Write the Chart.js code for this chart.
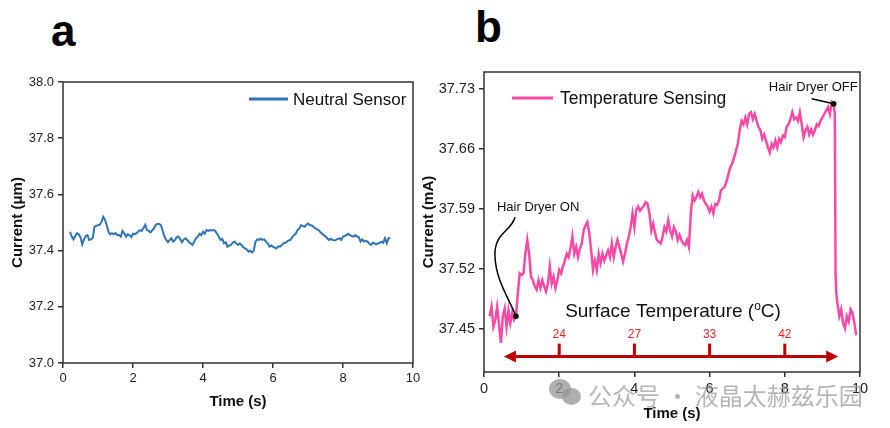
<!DOCTYPE html>
<html lang="en">
<head>
<meta charset="UTF-8">
<title>Current vs time</title>
<script src="https://cdn.jsdelivr.net/npm/chart.js@4.4.1/dist/chart.umd.min.js"></script>
<style>
  body { margin: 0; background: #fff; width: 890px; height: 428px; overflow: hidden; position: relative; font-family: "Liberation Sans", Arial, sans-serif; }
  canvas { position: absolute; top: 0; }
  #cA { left: 0; }
  #cB { left: 415px; }
  .panel { position: absolute; font-weight: bold; font-size: 44px; color: #000; line-height: 1; }
  .wm { position: absolute; left: 588px; top: 377px; font-family: "Noto Sans CJK SC", sans-serif; font-size: 24px; color: rgba(150,150,150,0.7); white-space: pre; }
  .bub { position: absolute; border-radius: 50%; background: rgba(150,150,150,0.75); }
</style>
</head>
<body>
<div class="panel" style="left:51px; top:9px;">a</div>
<div class="panel" style="left:475px; top:5px;">b</div>
<canvas id="cA" width="440" height="428"></canvas>
<canvas id="cB" width="475" height="428"></canvas>
<div class="bub" style="left:549px; top:379px; width:22px; height:20px;"></div>
<div class="bub" style="left:562px; top:388px; width:19px; height:17px;"></div>
<div class="wm">公众号 · 液晶太赫兹乐园</div>
<script>
// panel a: neutral sensor
const neutralTime = [0.20,0.25,0.30,0.35,0.40,0.45,0.50,0.55,0.60,0.65,0.70,0.75,0.80,0.85,0.90,0.95,
  1.00,1.05,1.10,1.15,1.20,1.25,1.30,1.35,1.40,1.45,1.50,1.55,1.60,1.65,1.70,1.75,1.80,1.85,1.90,1.95,
  2.00,2.05,2.10,2.15,2.20,2.25,2.30,2.35,2.40,2.45,2.50,2.55,2.60,2.65,2.70,2.75,2.80,2.85,2.90,2.95,
  3.00,3.05,3.10,3.15,3.20,3.25,3.30,3.35,3.40,3.45,3.50,3.55,3.60,3.65,3.70,3.75,3.80,3.85,3.90,3.95,
  4.00,4.05,4.10,4.15,4.20,4.25,4.30,4.35,4.40,4.45,4.50,4.55,4.60,4.65,4.70,4.75,4.80,4.85,4.90,4.95,
  5.00,5.05,5.10,5.15,5.20,5.25,5.30,5.35,5.40,5.45,5.50,5.55,5.60,5.65,5.70,5.75,5.80,5.85,5.90,5.95,
  6.00,6.05,6.10,6.15,6.20,6.25,6.30,6.35,6.40,6.45,6.50,6.55,6.60,6.65,6.70,6.75,6.80,6.85,6.90,6.95,
  7.00,7.05,7.10,7.15,7.20,7.25,7.30,7.35,7.40,7.45,7.50,7.55,7.60,7.65,7.70,7.75,7.80,7.85,7.90,7.95,
  8.00,8.05,8.10,8.15,8.20,8.25,8.30,8.35,8.40,8.45,8.50,8.55,8.60,8.65,8.70,8.75,8.80,8.85,8.90,8.95,
  9.00,9.05,9.10,9.15,9.20,9.25,9.30,9.35];
const neutralCurrent = [37.467,37.450,37.440,37.452,37.462,37.458,37.448,37.422,37.440,37.452,37.455,37.438,37.440,37.445,37.485,37.488,
  37.490,37.492,37.502,37.520,37.510,37.490,37.467,37.458,37.462,37.458,37.462,37.455,37.456,37.450,37.470,37.462,37.450,37.458,37.455,37.448,
  37.460,37.458,37.462,37.468,37.473,37.470,37.480,37.492,37.473,37.470,37.465,37.472,37.480,37.492,37.495,37.495,37.490,37.470,37.450,37.438,
  37.430,37.438,37.444,37.432,37.438,37.448,37.450,37.440,37.430,37.440,37.444,37.438,37.430,37.425,37.420,37.432,37.444,37.450,37.460,37.455,
  37.467,37.460,37.473,37.470,37.473,37.472,37.473,37.470,37.460,37.450,37.438,37.442,37.426,37.430,37.414,37.418,37.420,37.428,37.432,37.425,
  37.420,37.426,37.420,37.412,37.408,37.404,37.396,37.400,37.393,37.400,37.432,37.440,37.438,37.442,37.438,37.440,37.432,37.425,37.414,37.418,
  37.414,37.410,37.408,37.415,37.414,37.420,37.426,37.428,37.432,37.436,37.438,37.448,37.455,37.460,37.473,37.478,37.490,37.488,37.485,37.492,
  37.497,37.490,37.490,37.486,37.480,37.476,37.473,37.466,37.460,37.455,37.450,37.444,37.438,37.442,37.438,37.436,37.438,37.442,37.444,37.438,
  37.450,37.452,37.455,37.460,37.455,37.452,37.450,37.455,37.450,37.448,37.432,37.440,37.432,37.435,37.432,37.424,37.420,37.428,37.426,37.422,
  37.426,37.428,37.432,37.428,37.444,37.426,37.444,37.445];

// panel b: temperature sensing
const tempTime = [0.15,0.20,0.25,0.30,0.35,0.40,0.45,0.50,0.55,0.60,0.65,0.70,0.75,0.80,0.85,0.90,0.95,
  1.00,1.05,1.10,1.15,1.20,1.25,1.30,1.35,1.40,1.45,1.50,1.55,1.60,1.65,1.70,1.75,1.80,1.85,1.90,1.95,
  2.00,2.05,2.10,2.15,2.20,2.25,2.30,2.35,2.40,2.45,2.50,2.55,2.60,2.65,2.70,2.75,2.80,2.85,2.90,2.95,
  3.00,3.05,3.10,3.15,3.20,3.25,3.30,3.35,3.40,3.45,3.50,3.55,3.60,3.65,3.70,3.75,3.80,3.85,3.90,3.95,
  4.00,4.05,4.10,4.15,4.20,4.25,4.30,4.35,4.40,4.45,4.50,4.55,4.60,4.65,4.70,4.75,4.80,4.85,4.90,4.95,
  5.00,5.05,5.10,5.15,5.20,5.25,5.30,5.35,5.40,5.45,5.50,5.55,5.60,5.65,5.70,5.75,5.80,5.85,5.90,5.95,
  6.00,6.05,6.10,6.15,6.20,6.25,6.30,6.35,6.40,6.45,6.50,6.55,6.60,6.65,6.70,6.75,6.80,6.85,6.90,6.95,
  7.00,7.05,7.10,7.15,7.20,7.25,7.30,7.35,7.40,7.45,7.50,7.55,7.60,7.65,7.70,7.75,7.80,7.85,7.90,7.95,
  8.00,8.05,8.10,8.15,8.20,8.25,8.30,8.35,8.40,8.45,8.50,8.55,8.60,8.65,8.70,8.75,8.80,8.85,8.90,8.95,
  9.00,9.05,9.10,9.15,9.20,9.25,9.30,9.33,9.35,9.37,9.40,9.45,9.50,9.55,9.60,9.65,9.70,9.75,9.80,9.85,9.90];
const tempCurrent = [37.465,37.476,37.453,37.461,37.476,37.455,37.434,37.465,37.474,37.453,37.472,37.457,37.469,37.461,37.465,37.492,37.515,
  37.513,37.515,37.538,37.554,37.538,37.511,37.507,37.500,37.496,37.507,37.498,37.507,37.500,37.494,37.503,37.523,37.503,37.511,37.498,37.507,
  37.519,37.515,37.523,37.530,37.538,37.534,37.544,37.558,37.538,37.546,37.534,37.544,37.550,37.565,37.571,37.575,37.562,37.542,37.519,37.530,
  37.519,37.538,37.527,37.538,37.530,37.536,37.542,37.534,37.550,37.534,37.546,37.554,37.546,37.538,37.529,37.538,37.550,37.558,37.569,37.585,
  37.569,37.589,37.593,37.588,37.591,37.594,37.598,37.596,37.585,37.565,37.573,37.562,37.554,37.552,37.550,37.558,37.569,37.564,37.577,37.565,
  37.558,37.569,37.564,37.554,37.560,37.554,37.550,37.548,37.554,37.546,37.585,37.606,37.600,37.604,37.610,37.604,37.608,37.600,37.596,37.593,
  37.587,37.593,37.585,37.596,37.595,37.600,37.612,37.614,37.616,37.622,37.631,37.639,37.643,37.650,37.658,37.666,37.682,37.693,37.689,37.697,
  37.689,37.701,37.703,37.695,37.701,37.693,37.686,37.682,37.672,37.677,37.670,37.662,37.656,37.666,37.662,37.670,37.662,37.672,37.668,37.676,
  37.674,37.686,37.689,37.695,37.703,37.695,37.697,37.693,37.703,37.689,37.674,37.682,37.686,37.677,37.683,37.677,37.682,37.689,37.687,37.693,
  37.697,37.701,37.705,37.709,37.701,37.715,37.713,37.701,37.515,37.492,37.480,37.465,37.473,37.457,37.451,37.465,37.459,37.473,37.469,37.457,37.443];

const xTicks = [0, 2, 4, 6, 8, 10];
const yTicksA = [37.0, 37.2, 37.4, 37.6, 37.8, 38.0];
const yTicksB = [37.45, 37.52, 37.59, 37.66, 37.73];

// annotations in panel b
const dryerTime = [0.85, 9.30];
const dryerCurrent = [37.465, 37.713];
const dryerText = ['Hair Dryer ON', 'Hair Dryer OFF'];
const surfaceTime = [2, 4, 6, 8];
const surfaceTemp = ['24', '27', '33', '42'];
const arrowSpan = [0.53, 9.42];
const arrowLevel = 37.418;

const FONT = '"Liberation Sans", Arial, sans-serif';
const AXIS = '#333';

function pairs(xs, ys) { return xs.map((x, i) => ({ x: x, y: ys[i] })); }

// frame + legend drawn inside the plot area
const frameLegend = {
  id: 'frameLegend',
  afterDatasetsDraw(chart, args, opts) {
    const { ctx, chartArea: a } = chart;
    ctx.save();
    ctx.strokeStyle = AXIS;
    ctx.lineWidth = 1.5;
    ctx.strokeRect(a.left, a.top, a.right - a.left, a.bottom - a.top);
    const ds = chart.data.datasets[0];
    ctx.strokeStyle = ds.borderColor;
    ctx.lineWidth = 3;
    ctx.beginPath();
    ctx.moveTo(opts.x, opts.y);
    ctx.lineTo(opts.x + opts.len, opts.y);
    ctx.stroke();
    ctx.fillStyle = '#111';
    ctx.font = opts.size + 'px ' + FONT;
    ctx.textBaseline = 'middle';
    ctx.fillText(ds.label, opts.x + opts.len + opts.gap, opts.y + 1);
    ctx.restore();
  }
};

function axisTitle(text, pad) {
  return { display: true, text: text, color: '#111', font: { family: FONT, size: 15, weight: 'bold' }, padding: pad };
}

function makeScales(o) {
  return {
    x: {
      type: 'linear', min: 0, max: 10,
      afterBuildTicks: s => { s.ticks = xTicks.map(v => ({ value: v })); },
      afterFit: s => { s.height = o.xHeight; s.paddingLeft = 0; s.paddingRight = 0; },
      grid: { drawOnChartArea: false, drawTicks: true, tickLength: o.tickLen, color: AXIS, lineWidth: 1.5 },
      border: { display: false },
      ticks: { color: '#222', font: { family: FONT, size: o.tickSize }, padding: 3, maxRotation: 0 },
      title: axisTitle('Time (s)', { top: 0, bottom: o.xPad })
    },
    y: {
      type: 'linear', min: o.yMin, max: o.yMax,
      afterBuildTicks: s => { s.ticks = o.yTicks.map(v => ({ value: v })); },
      afterFit: s => { s.width = o.yWidth; s.paddingTop = 0; s.paddingBottom = 0; },
      grid: { drawOnChartArea: false, drawTicks: true, tickLength: o.tickLen, color: AXIS, lineWidth: 1.5 },
      border: { display: false },
      ticks: { color: '#222', font: { family: FONT, size: o.tickSize }, padding: 4, callback: v => v.toFixed(o.yDec) },
      title: axisTitle(o.yTitle, { top: o.yPad, bottom: 0 })
    }
  };
}

new Chart(document.getElementById('cA'), {
  type: 'line',
  data: { datasets: [{ label: 'Neutral Sensor', data: pairs(neutralTime, neutralCurrent), borderColor: '#2f74b5', borderWidth: 2, pointRadius: 0, tension: 0 }] },
  options: {
    responsive: false, animation: false, parsing: false,
    layout: { padding: { top: 82, right: 27, bottom: 10, left: 0 } },
    plugins: { legend: { display: false }, tooltip: { enabled: false },
      frameLegend: { x: 249, y: 99, len: 39, gap: 5, size: 17 } },
    scales: makeScales({ yMin: 37.0, yMax: 38.0, yTicks: yTicksA, yDec: 1, yWidth: 63, xHeight: 55,
      tickLen: 5, tickSize: 13, yTitle: 'Current (\u03bcm)', yPad: 8.5, xPad: 7 })
  },
  plugins: [frameLegend]
});

const dryerNotes = {
  id: 'dryerNotes',
  afterDatasetsDraw(chart) {
    const { ctx, scales: { x, y } } = chart;
    ctx.save();
    // hair dryer markers and leader lines
    const on = { x: x.getPixelForValue(dryerTime[0]), y: y.getPixelForValue(dryerCurrent[0]) };
    const off = { x: x.getPixelForValue(dryerTime[1]), y: y.getPixelForValue(dryerCurrent[1]) };
    ctx.strokeStyle = '#000';
    ctx.lineWidth = 1.5;
    ctx.beginPath();
    ctx.moveTo(on.x - 1, on.y - 99);
    ctx.bezierCurveTo(on.x - 5, on.y - 84, on.x - 22, on.y - 84, on.x - 21, on.y - 60);
    ctx.bezierCurveTo(on.x - 20, on.y - 36, on.x - 8, on.y - 20, on.x, on.y);
    ctx.stroke();
    ctx.beginPath();
    ctx.moveTo(off.x - 22, off.y - 5);
    ctx.lineTo(off.x, off.y);
    ctx.stroke();
    ctx.fillStyle = '#000';
    [on, off].forEach(p => { ctx.beginPath(); ctx.arc(p.x, p.y, 2.8, 0, Math.PI * 2); ctx.fill(); });
    ctx.font = '13px ' + FONT;
    ctx.textBaseline = 'middle';
    ctx.fillStyle = '#111';
    ctx.textAlign = 'left';
    ctx.fillText(dryerText[0], on.x - 19, on.y - 109);
    ctx.textAlign = 'right';
    ctx.fillText(dryerText[1], off.x + 24, off.y - 16);

    // surface temperature arrow
    const ay = y.getPixelForValue(arrowLevel);
    const ax0 = x.getPixelForValue(arrowSpan[0]);
    const ax1 = x.getPixelForValue(arrowSpan[1]);
    ctx.strokeStyle = '#c00000';
    ctx.fillStyle = '#c00000';
    ctx.lineWidth = 3;
    ctx.beginPath();
    ctx.moveTo(ax0 + 8, ay);
    ctx.lineTo(ax1 - 8, ay);
    ctx.stroke();
    ctx.beginPath();
    ctx.moveTo(ax0, ay); ctx.lineTo(ax0 + 12, ay - 6); ctx.lineTo(ax0 + 12, ay + 6); ctx.closePath(); ctx.fill();
    ctx.beginPath();
    ctx.moveTo(ax1, ay); ctx.lineTo(ax1 - 12, ay - 6); ctx.lineTo(ax1 - 12, ay + 6); ctx.closePath(); ctx.fill();
    ctx.font = '12px ' + FONT;
    ctx.textAlign = 'center';
    surfaceTime.forEach((t, i) => {
      const px = x.getPixelForValue(t);
      ctx.fillStyle = '#c00000';
      ctx.fillRect(px - 1.5, ay - 13, 3, 13);
      ctx.fillStyle = '#e8262a';
      ctx.fillText(surfaceTemp[i], px, ay - 22);
    });
    // heading over the arrow
    ctx.fillStyle = '#111';
    ctx.textAlign = 'left';
    const mid = (x.getPixelForValue(2) + x.getPixelForValue(8)) / 2 + 1;
    const p1 = 'Surface Temperature (', p2 = 'o', p3 = 'C)';
    ctx.font = '19px ' + FONT; const w1 = ctx.measureText(p1).width, w3 = ctx.measureText(p3).width;
    ctx.font = '12px ' + FONT; const w2 = ctx.measureText(p2).width;
    let sx = mid - (w1 + w2 + w3) / 2;
    const ty = ay - 45;
    ctx.font = '19px ' + FONT; ctx.fillText(p1, sx, ty); sx += w1;
    ctx.font = '12px ' + FONT; ctx.fillText(p2, sx, ty - 5); sx += w2;
    ctx.font = '19px ' + FONT; ctx.fillText(p3, sx, ty);
    ctx.restore();
  }
};

new Chart(document.getElementById('cB'), {
  type: 'line',
  data: { datasets: [{ label: 'Temperature Sensing', data: pairs(tempTime, tempCurrent), borderColor: '#f74aa6', borderWidth: 2.5, pointRadius: 0, tension: 0 }] },
  options: {
    responsive: false, animation: false, parsing: false,
    layout: { padding: { top: 72, right: 30, bottom: 0, left: 0 } },
    plugins: { legend: { display: false }, tooltip: { enabled: false },
      frameLegend: { x: 97, y: 98, len: 41, gap: 7, size: 17.5 } },
    scales: makeScales({ yMin: 37.40, yMax: 37.75, yTicks: yTicksB, yDec: 2, yWidth: 69, xHeight: 56,
      tickLen: 5, tickSize: 14.5, yTitle: 'Current (mA)', yPad: 5, xPad: 5 })
  },
  plugins: [frameLegend, dryerNotes]
});
</script>
</body>
</html>
